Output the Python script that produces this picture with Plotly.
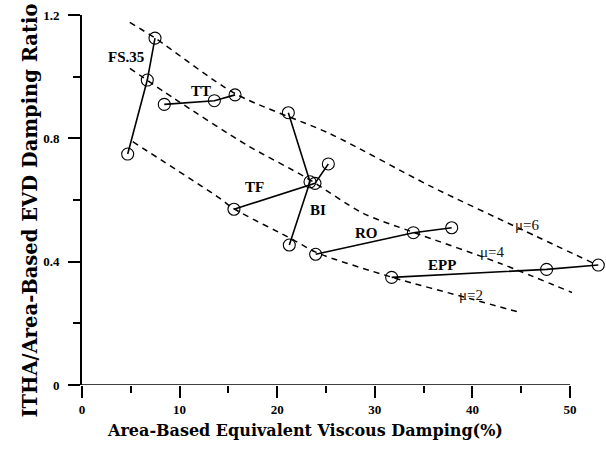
import plotly.graph_objects as go

# Response points per hysteresis model: (equivalent damping %, ITHA/EVD ratio)
fs35_x = [7.48, 6.69, 4.68]
fs35_y = [1.125, 0.989, 0.749]
tt_x = [8.43, 13.56, 15.68]
tt_y = [0.910, 0.922, 0.941]
bi_x = [21.14, 23.36, 21.24]
bi_y = [0.883, 0.659, 0.454]
tf_x = [15.57, 23.87, 25.24]
tf_y = [0.570, 0.654, 0.717]
ro_x = [23.94, 33.95, 37.88]
ro_y = [0.424, 0.494, 0.510]
epp_x = [31.73, 47.60, 52.90]
epp_y = [0.349, 0.375, 0.389]

# Constant-ductility trend curves
mu6_x = [4.9, 7.5, 15.7, 25.4, 35.7, 45.0, 52.4]
mu6_y = [1.176, 1.125, 0.945, 0.815, 0.645, 0.505, 0.395]
mu4_x = [4.9, 9.4, 16.9, 23.0, 28.8, 33.8, 42.8, 50.2]
mu4_y = [1.027, 0.930, 0.778, 0.672, 0.557, 0.497, 0.395, 0.300]
mu2_x = [5.2, 14.1, 15.5, 21.7, 24.0, 31.7, 40.0, 44.9]
mu2_y = [0.789, 0.606, 0.573, 0.470, 0.430, 0.350, 0.278, 0.235]

# Text labels: (text, x, y)
series_labels = [("FS.35", 4.5, 1.064), ("TT", 12.2, 0.954), ("TF", 17.7, 0.643),
                 ("BI", 24.2, 0.568), ("RO", 29.2, 0.492), ("EPP", 36.85, 0.389)]
curve_labels = [("μ=6", 45.6, 0.519), ("μ=4", 42.1, 0.432), ("μ=2", 39.9, 0.292)]

x_major = [0, 10, 20, 30, 40, 50]
x_minor = [5, 15, 25, 35, 45]
y_major = [0, 0.4, 0.8, 1.2]
y_minor = [0.2, 0.6, 1.0]

SERIF = "Liberation Serif"
WIDE_SERIF = "DejaVu Serif"

fig = go.Figure()

for cx, cy in [(mu6_x, mu6_y), (mu4_x, mu4_y), (mu2_x, mu2_y)]:
    fig.add_trace(go.Scatter(
        x=cx, y=cy, mode="lines",
        line=dict(color="black", width=1.5, dash="6px,5px", shape="spline", smoothing=0.8),
        showlegend=False, hoverinfo="skip"))

for sx, sy in [(fs35_x, fs35_y), (tt_x, tt_y), (bi_x, bi_y), (tf_x, tf_y),
               (ro_x, ro_y), (epp_x, epp_y)]:
    fig.add_trace(go.Scatter(
        x=sx, y=sy, mode="lines+markers",
        line=dict(color="black", width=1.6),
        marker=dict(symbol="circle-open", size=12, color="black", line=dict(width=1.1)),
        cliponaxis=False, showlegend=False))

for txt, tx, ty in series_labels:
    fig.add_annotation(x=tx, y=ty, text=txt, showarrow=False,
                       font=dict(family=SERIF, size=15, color="black", weight="bold"))
for txt, tx, ty in curve_labels:
    fig.add_annotation(x=tx, y=ty, text=txt, showarrow=False,
                       font=dict(family=SERIF, size=15, color="#111111"))

# y-axis title placed as rotated text
fig.add_annotation(xref="paper", yref="paper", x=-0.1245, y=0.47,
                   text="ITHA/Area-Based EVD Damping Ratio", textangle=-90,
                   showarrow=False,
                   font=dict(family=WIDE_SERIF, size=19.5, color="black", weight="bold"))
fig.add_annotation(xref="paper", yref="paper", x=(305 - 82) / 522, y=-(442 - 385) / 370,
                   text="Area-Based Equivalent Viscous Damping(%)",
                   showarrow=False,
                   font=dict(family=WIDE_SERIF, size=16, color="black", weight="bold"))

# x axis line only spans 0..50
fig.add_shape(type="line", x0=0, x1=50, y0=0, y1=0, xref="x", yref="y",
              line=dict(color="black", width=1.6), layer="above")

fig.update_layout(
    width=606, height=452,
    margin=dict(l=82, r=2, t=15, b=67),
    paper_bgcolor="white", plot_bgcolor="white",
    xaxis=dict(range=[0, 522 / 9.76], showline=False, showgrid=False, zeroline=False,
               tickvals=x_major, ticktext=[str(v) for v in x_major],
               ticks="outside", ticklen=12, tickwidth=2, tickcolor="black",
               tickfont=dict(family=SERIF, size=13, color="black", weight="bold"),
               minor=dict(tickvals=x_minor, ticks="outside", ticklen=7, tickwidth=2,
                          tickcolor="black", showgrid=False)),
    yaxis=dict(range=[0, 1.2], showline=True, linecolor="black", linewidth=1.6,
               showgrid=False, zeroline=False,
               tickvals=y_major, ticktext=["0", "0.4", "0.8", "1.2"],
               ticks="outside", ticklen=12, tickwidth=2, tickcolor="black",
               ticklabelstandoff=6,
               tickfont=dict(family=SERIF, size=13, color="black", weight="bold"),
               minor=dict(tickvals=y_minor, ticks="outside", ticklen=7, tickwidth=2,
                          tickcolor="black", showgrid=False)),
)

fig.write_html("out.html")
